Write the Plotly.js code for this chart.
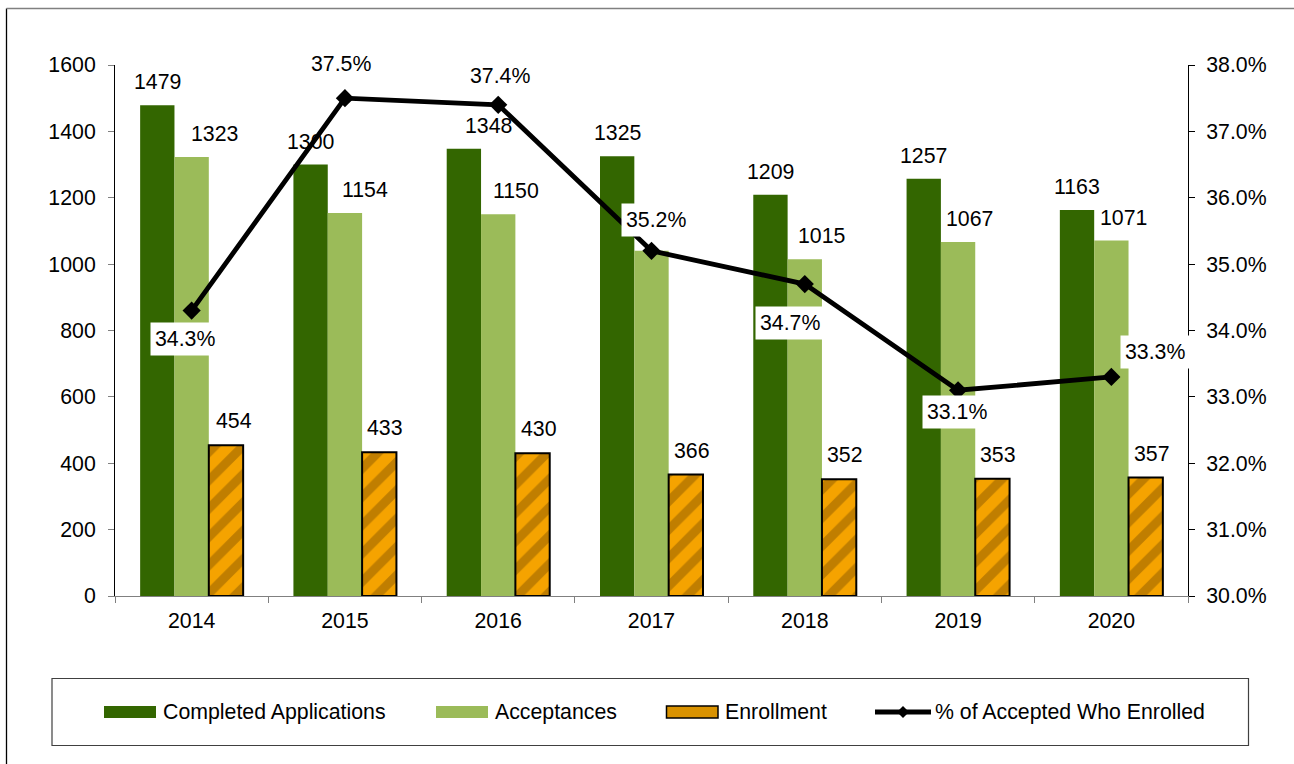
<!DOCTYPE html>
<html><head><meta charset="utf-8">
<script src="https://cdn.plot.ly/plotly-3.0.1.min.js"></script>
<style>html,body{margin:0;padding:0;background:#fff;overflow:hidden;} #chart{width:1294px;height:764px;}</style>
</head><body><div id="chart"></div>
<script>
// ---------- data ----------
const years = ['2014','2015','2016','2017','2018','2019','2020'];
const completedApplications = [1479, 1300, 1348, 1325, 1209, 1257, 1163];
const acceptances = [1323, 1154, 1150, 1040, 1015, 1067, 1071];
const enrollment = [454, 433, 430, 366, 352, 353, 357];
const pctAcceptedEnrolled = [0.343, 0.375, 0.374, 0.352, 0.347, 0.331, 0.333];
const seriesNames = ['Completed Applications', 'Acceptances', 'Enrollment', '% of Accepted Who Enrolled'];
const leftTicks = [0, 200, 400, 600, 800, 1000, 1200, 1400, 1600];
const rightTicks = [0.30, 0.31, 0.32, 0.33, 0.34, 0.35, 0.36, 0.37, 0.38];

// ---------- style ----------
const W = 1294, H = 764;
const M = {l: 115, r: 106, t: 65, b: 168};
const FONT = 'Liberation Sans, Arial, Helvetica, sans-serif';
const FS = 21.3;
const C_APPS = '#336600', C_ACC = '#9BBB59', C_ENR = '#F5A300';
const plotW = W - M.l - M.r, plotH = H - M.t - M.b;
const bargap = 0.328;
const barPx = plotW / years.length * (1 - bargap) / 3;
// label nudges in pixels (x right, y up)
const appsLabelDx = [0, 0, 25, 0, 0, 0, 0];
const accLabelDx = [23, 20, 18, 0, 17, 11, 12];
const accLabelShown = [true, true, true, false, true, true, true];
const enrLabelDx = [8, 6, 6, 6, 6, 6, 6];
const pctLabelDx = [-7, -4, 2, 4, -15, -1, 44];
const pctLabelDy = [-28, 34, 29, 31, -39, -22, 25];

const px2x = p => (p - M.l) / plotW;
const py2y = p => (H - M.b - p) / plotH;

const traces = [
  {type: 'bar', name: seriesNames[0], x: years, y: completedApplications,
   marker: {color: C_APPS}, yaxis: 'y', showlegend: false},
  {type: 'bar', name: seriesNames[1], x: years, y: acceptances,
   marker: {color: C_ACC}, yaxis: 'y', showlegend: false},
  {type: 'bar', name: seriesNames[2], x: years, y: enrollment, yaxis: 'y', showlegend: false,
   marker: {color: C_ENR, line: {color: '#000', width: 2},
            pattern: {shape: '/', fgcolor: '#8C5A00', bgcolor: C_ENR, size: 20, solidity: 0.45, fillmode: 'overlay'}}},
  {type: 'scatter', mode: 'lines+markers', name: seriesNames[3], x: years, y: pctAcceptedEnrolled,
   yaxis: 'y2', showlegend: false,
   line: {color: '#000', width: 4.8}, marker: {symbol: 'diamond', size: 14, color: '#000'}}
];

const annotations = [];
// x given as the category serial number (index of the year)
const lbl = (i, y, text, xshift, yshift, yref) => ({
  x: i, y, text, xref: 'x', yref, showarrow: false, xshift, yshift,
  xanchor: 'center', yanchor: 'middle', font: {family: FONT, size: FS, color: '#000'}
});
years.forEach((yr, i) => {
  annotations.push(lbl(i, completedApplications[i], String(completedApplications[i]), -barPx + appsLabelDx[i], 23, 'y'));
  if (accLabelShown[i]) annotations.push(lbl(i, acceptances[i], String(acceptances[i]), accLabelDx[i], 23, 'y'));
  annotations.push(lbl(i, enrollment[i], String(enrollment[i]), barPx + enrLabelDx[i], 24, 'y'));
});
years.forEach((yr, i) => {
  const a = lbl(i, pctAcceptedEnrolled[i], (pctAcceptedEnrolled[i] * 100).toFixed(1) + '%', pctLabelDx[i], pctLabelDy[i], 'y2');
  a.bgcolor = '#fff'; a.borderpad = 4;
  annotations.push(a);
});

// custom legend
const legY = 712;
const legendItems = [
  {x0: 104, x1: 156, tx: 160.5},
  {x0: 436, x1: 488, tx: 492.5},
  {x0: 666.5, x1: 718, tx: 723},
  {x0: 875, x1: 931, tx: 933}
];
legendItems.forEach((it, k) => {
  annotations.push({xref: 'paper', yref: 'paper', x: px2x(it.tx), y: py2y(legY), text: seriesNames[k],
    showarrow: false, xanchor: 'left', yanchor: 'middle', font: {family: FONT, size: FS, color: '#000'}});
});
const L = legendItems;
const dX = (L[3].x0 + L[3].x1) / 2;

const shapes = [
  // outer frame
  {type: 'line', xref: 'paper', yref: 'paper', x0: px2x(6.5), x1: px2x(6.5), y0: py2y(8.5), y1: py2y(800), line: {color: '#000', width: 1.3}},
  {type: 'line', xref: 'paper', yref: 'paper', x0: px2x(6.5), x1: px2x(1400), y0: py2y(8.5), y1: py2y(8.5), line: {color: '#808080', width: 1.3}},
  // legend box
  {type: 'rect', xref: 'paper', yref: 'paper', x0: px2x(52), x1: px2x(1248.5), y0: py2y(678.5), y1: py2y(745.5), line: {color: '#404040', width: 1.2}, fillcolor: 'rgba(0,0,0,0)'},
  // legend symbols
  {type: 'rect', xref: 'paper', yref: 'paper', x0: px2x(L[0].x0), x1: px2x(L[0].x1), y0: py2y(718), y1: py2y(706), line: {width: 0}, fillcolor: C_APPS},
  {type: 'rect', xref: 'paper', yref: 'paper', x0: px2x(L[1].x0), x1: px2x(L[1].x1), y0: py2y(718), y1: py2y(706), line: {width: 0}, fillcolor: C_ACC},
  {type: 'rect', xref: 'paper', yref: 'paper', x0: px2x(L[2].x0), x1: px2x(L[2].x1), y0: py2y(718), y1: py2y(706), line: {color: '#000', width: 1.5}, fillcolor: '#D99200'},
  {type: 'line', xref: 'paper', yref: 'paper', x0: px2x(L[3].x0), x1: px2x(L[3].x1), y0: py2y(legY), y1: py2y(legY), line: {color: '#000', width: 4.8}},
  {type: 'path', xref: 'paper', yref: 'paper',
   path: `M ${px2x(dX)} ${py2y(legY - 6)} L ${px2x(dX + 6)} ${py2y(legY)} L ${px2x(dX)} ${py2y(legY + 6)} L ${px2x(dX - 6)} ${py2y(legY)} Z`,
   line: {width: 0}, fillcolor: '#000'}
];

const layout = {
  width: W, height: H,
  margin: M,
  paper_bgcolor: '#fff', plot_bgcolor: '#fff',
  font: {family: FONT, size: FS, color: '#000'},
  barmode: 'group', bargap: bargap, bargroupgap: 0,
  showlegend: false,
  xaxis: {type: 'category', range: [-0.5, years.length - 0.5], autorange: false,
          showgrid: false, showline: true, linecolor: '#808080', linewidth: 1,
          ticks: 'outside', tickson: 'boundaries', ticklen: 6, tickcolor: '#808080', tickangle: 0,
          ticklabelstandoff: 5,
          tickfont: {family: FONT, size: FS, color: '#000'}, zeroline: false, fixedrange: true},
  yaxis: {range: [0, 1600], autorange: false, tickvals: leftTicks, showgrid: false, zeroline: false,
          showline: true, linecolor: '#000', linewidth: 1, ticks: 'outside', ticklen: 6, tickcolor: '#808080',
          ticklabelstandoff: 8,
          tickfont: {family: FONT, size: FS, color: '#000'}},
  yaxis2: {range: [0.30, 0.38], autorange: false, tickvals: rightTicks, tickformat: '.1%', overlaying: 'y', side: 'right',
           showgrid: false, zeroline: false, showline: true, linecolor: '#000', linewidth: 1,
           ticks: 'outside', ticklen: 6, tickcolor: '#000', ticklabelstandoff: 7,
           tickfont: {family: FONT, size: FS, color: '#000'}},
  annotations, shapes
};

Plotly.newPlot('chart', traces, layout, {displayModeBar: false, staticPlot: true});
</script>
</body></html>
